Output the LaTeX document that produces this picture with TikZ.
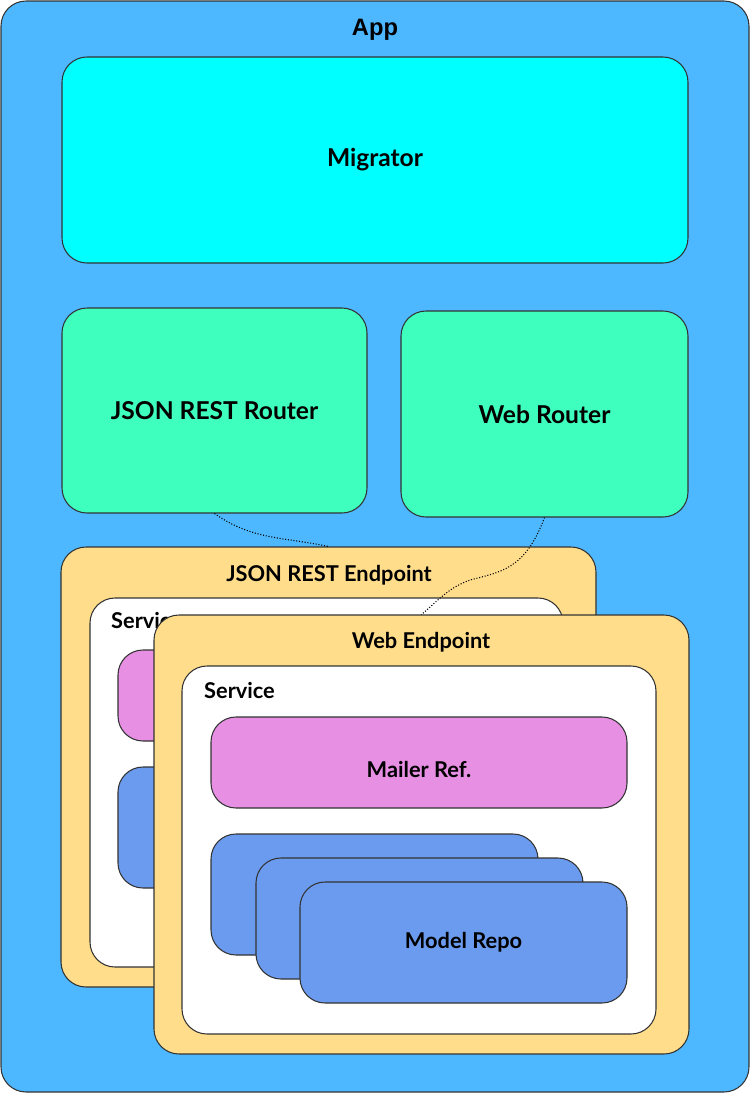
\documentclass[tikz,border=0pt]{standalone}
\usepackage{fontspec}
\setmainfont{Lato}
\newfontfamily\appfont{Liberation Sans}
\usepackage{xcolor}
\usepackage{tikz}

\definecolor{appblue}{HTML}{4DB8FF}
\definecolor{migcyan}{HTML}{00FFFF}
\definecolor{routergreen}{HTML}{3FFFBF}
\definecolor{endpointyellow}{HTML}{FFDD8B}
\definecolor{mailerpink}{HTML}{E68FE3}
\definecolor{repoblue}{HTML}{6A9BEE}
\definecolor{edgegray}{HTML}{333333}

\begin{document}
\begin{tikzpicture}[x=0.02cm, y=-0.02cm,
    box/.style 2 args={draw=edgegray, line width=0.6pt, rounded corners=0.5cm,
      minimum width=#1*0.02cm, minimum height=#2*0.02cm, inner sep=0pt},
    bigtext/.style={font=\bfseries\fontsize{14}{16}\selectfont},
    smalltext/.style={font=\bfseries\fontsize{12.4}{14}\selectfont},
    link/.style={densely dotted, line width=0.6pt, black}]
    \useasboundingbox (0,0) rectangle (750,1093);

    % Draw the app
    \node[box={748}{1091}, fill=appblue] (app) at (375,546.5) {};
    \node[font=\appfont\bfseries\fontsize{13.5}{15}\selectfont] (apptitle) at (375,30) {App};

    % Migrator and routers
    \node[box={626}{206}, fill=migcyan, bigtext] (migrator) at (375,160) {Migrator};
    \node[box={305}{205}, fill=routergreen, bigtext] (jsonrouter) at (214.5,410.5) {JSON REST Router};
    \node[box={287}{206}, fill=routergreen, bigtext] (webrouter) at (544.5,414) {Web Router};

    % JSON REST endpoint (behind)
    \node[box={535}{440}, fill=endpointyellow] (jsonendpoint) at (328.5,767) {};
    \node[smalltext] (jsontitle) at (329,575) {JSON REST Endpoint};
    \node[box={473}{369}, fill=white] (jsonservice) at (326.5,782.5) {};
    \node[smalltext, anchor=west] (jsonservicetitle) at (105,621) {Service};
    \node[box={416}{91}, fill=mailerpink] (jsonmailer) at (326,695.5) {};
    \node[box={327}{121}, fill=repoblue] (jsonrepo) at (281.5,827.5) {};

    % Web endpoint (front)
    \node[box={535}{439}, fill=endpointyellow] (webendpoint) at (421.5,834.5) {};
    \node[smalltext] (webtitle) at (421,642) {Web Endpoint};
    \node[box={474}{368}, fill=white] (webservice) at (419,850) {};
    \node[smalltext, anchor=west] (webservicetitle) at (198,690) {Service};
    \node[box={416}{91}, fill=mailerpink] (webmailer) at (419,762.5) {};
    \node[smalltext] (mailertext) at (419,769) {Mailer Ref.};

    % Stack of model repos
    \node[box={327}{121}, fill=repoblue] (repoa) at (374.5,894.5) {};
    \node[box={327}{121}, fill=repoblue] (repob) at (419.5,918.5) {};
    \node[box={327}{121}, fill=repoblue, smalltext] (repoc) at (463.5,942.5) {Model Repo};

    % Dotted links from routers to endpoints
    \draw[link] (jsonrouter.south) to[out=-35, in=168] (jsonendpoint.north);
    \draw[link] (webrouter.south) .. controls (525,570) and (500,572) .. (470,580)
      to[out=-160, in=40] (webendpoint.north);
\end{tikzpicture}
\end{document}
